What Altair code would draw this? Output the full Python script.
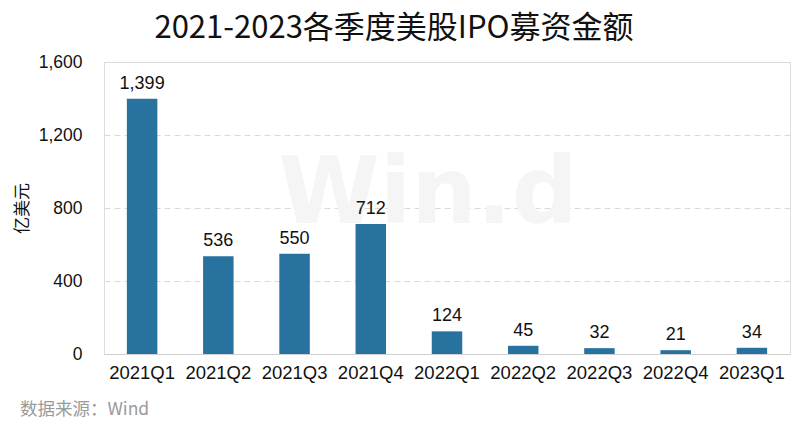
import altair as alt
import pandas as pd

quarters = ["2021Q1", "2021Q2", "2021Q3", "2021Q4", "2022Q1", "2022Q2", "2022Q3", "2022Q4", "2023Q1"]
amounts = [1399, 536, 550, 712, 124, 45, 32, 21, 34]
y_ticks = [0, 400, 800, 1200, 1600]
title_text = "2021-2023各季度美股IPO募资金额"
y_title = "亿美元"
source_text = "数据来源：Wind"
watermark = "Win.d"

df = pd.DataFrame({"q": quarters, "v": amounts})
df["label"] = [f"{v:,}" for v in amounts]

W, H = 686, 292
FONT = "Arial, Liberation Sans, sans-serif"

base = alt.Chart(df)

x_enc = alt.X("q:N", sort=quarters, title=None,
              scale=alt.Scale(paddingInner=0.6, paddingOuter=0.3),
              axis=alt.Axis(labelAngle=0, labelFontSize=18.5, labelFont=FONT, labelColor="#111111",
                            ticks=False, domain=True, domainColor="#d0d0d0", domainWidth=1,
                            labelPadding=9))
y_enc = alt.Y("v:Q", scale=alt.Scale(domain=[0, 1600], nice=False),
              axis=alt.Axis(values=y_ticks, format=",.0f", labelFontSize=17.5, labelFont=FONT,
                            labelColor="#111111", ticks=False, domain=False, labelPadding=22,
                            grid=True, gridDash=[6, 4], gridColor="#d9d9d9",
                            title=y_title, titleFont="Noto Sans CJK SC", titleFontSize=17,
                            titleFontWeight="normal", titleColor="#111111",
                            titleAngle=-90, titleX=-82, titleY=146, titleAlign="center",
                            titleBaseline="middle"))

bars = base.mark_bar(color="#27729F").encode(x=x_enc, y=y_enc)
labels = base.mark_text(dy=-15, fontSize=18, font=FONT, color="#111111").encode(
    x=alt.X("q:N", sort=quarters), y="v:Q", text="label:N")

wm = alt.Chart(pd.DataFrame({"t": [watermark]})).mark_text(
    fontSize=92, font="DejaVu Sans", fontWeight="bold", color="#f5f5f5", align="center",
    baseline="middle").encode(x=alt.value(324), y=alt.value(133), text="t:N")

src = alt.Chart(pd.DataFrame({"t": [source_text]})).mark_text(
    fontSize=17.5, font="Noto Sans CJK SC", color="#9a9a9a", align="left",
    baseline="middle").encode(x=alt.value(-84), y=alt.value(348), text="t:N")

chart = alt.layer(wm, bars, labels, src).properties(
    width=W, height=H,
    title=alt.TitleParams(title_text, font="Noto Sans CJK SC", fontSize=31, fontWeight="normal",
                          color="#111111", anchor="middle", offset=8, dx=-53),
    autosize=alt.AutoSizeParams(type="none"),
    padding={"left": 96, "top": 54, "right": 5, "bottom": 81},
).configure_view(stroke=None).configure(background="white")

chart.save("out.html", embed_options={"renderer": "svg", "actions": False})
